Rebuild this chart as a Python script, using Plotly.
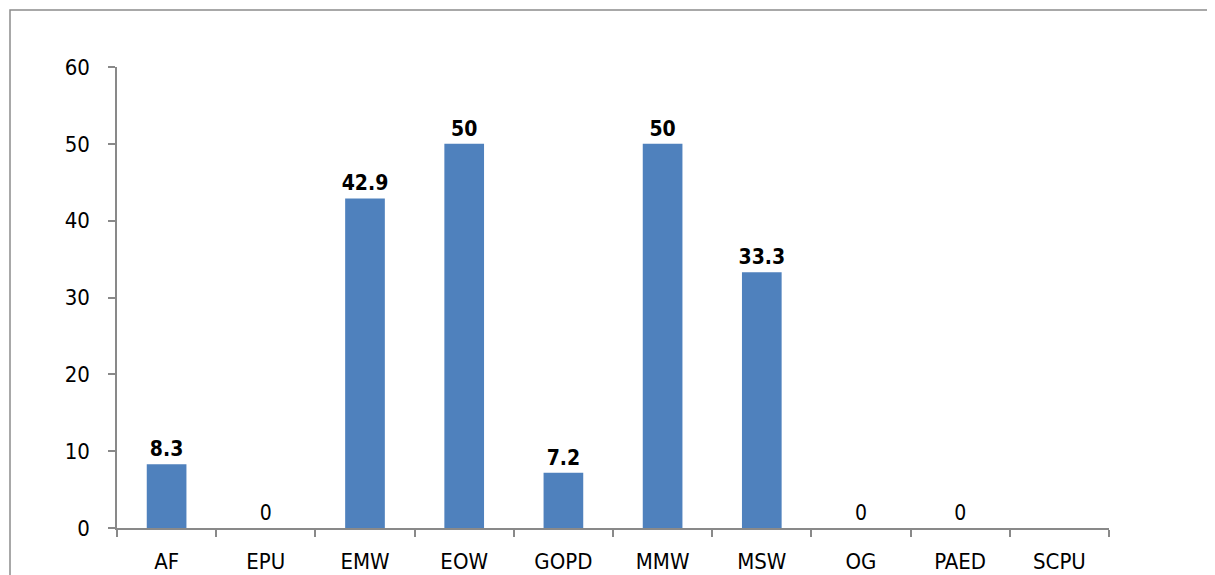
import plotly.graph_objects as go

categories = ["AF", "EPU", "EMW", "EOW", "GOPD", "MMW", "MSW", "OG", "PAED", "SCPU"]
values = [8.3, 0, 42.9, 50, 7.2, 50, 33.3, 0, 0, None]
y_ticks = [0, 10, 20, 30, 40, 50, 60]

def fmt(v):
    if v is None:
        return ""
    s = f"{v:g}"
    return f"<b>{s}</b>" if v != 0 else s

labels = [fmt(v) for v in values]

FONT = "DejaVu Sans Condensed, Liberation Sans Narrow, Arial Narrow, sans-serif"

fig = go.Figure()
fig.add_trace(go.Bar(
    x=categories,
    y=[v if v is not None else 0 for v in values],
    marker=dict(color="#4F81BD", line=dict(width=0)),
    text=labels,
    textposition="outside",
    constraintext="none",
    textfont=dict(family=FONT, size=21, color="#000000"),
    cliponaxis=False,
    hoverinfo="skip",
))

fig.update_layout(
    width=1207, height=567,
    margin=dict(l=109, r=106, t=59, b=47),
    paper_bgcolor="white", plot_bgcolor="white",
    bargap=0.6,
    showlegend=False,
    font=dict(family=FONT, size=21, color="#000000"),
)
fig.update_xaxes(
    showgrid=False, showline=True, linecolor="#898989", linewidth=1.5,
    ticks="outside", ticklen=7, tickcolor="#898989", tickwidth=1.5,
    tickson="boundaries", ticklabelstandoff=13, automargin=False,
    tickfont=dict(family=FONT, size=22, color="#000000"),
    range=[-0.5, 9.5],
)
fig.update_yaxes(
    range=[0, 60], tickvals=y_ticks, showgrid=False, zeroline=False,
    showline=True, linecolor="#898989", linewidth=1.5,
    ticks="outside", ticklen=7, tickcolor="#898989", tickwidth=1.5,
    ticklabelstandoff=14, automargin=False,
    tickfont=dict(family=FONT, size=22, color="#000000"),
)
# outer border frame
fig.add_shape(type="rect", xref="paper", yref="paper",
              x0=(10 - 117) / 992, x1=1.2, y0=-0.2, y1=(528 - 10) / 461,
              line=dict(color="#8c8c8c", width=1.5), layer="below")

fig.write_html("out.html")
